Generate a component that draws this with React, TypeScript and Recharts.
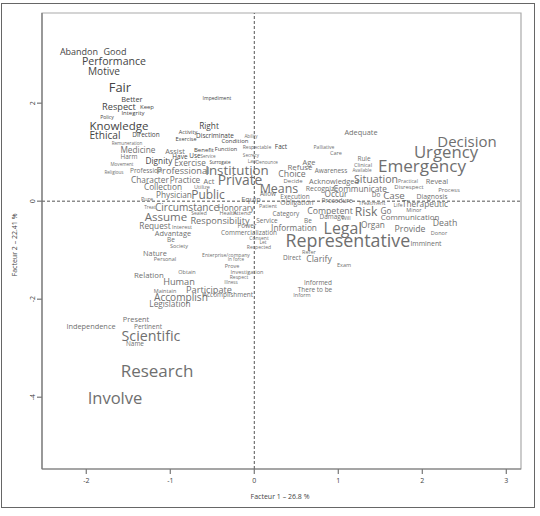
import React from "react";
import {
  ScatterChart,
  Scatter,
  XAxis,
  YAxis,
  ReferenceLine,
  ReferenceArea,
} from "recharts";

// words of the correspondence analysis map (factor 1 / factor 2 coordinates)
const labels = [
  "Abandon", "Good", "Performance", "Motive", "Fair", "Better", "Respect", "Keep", "Integrity", "Policy",
  "Impediment", "Knowledge", "Right", "Ethical", "Direction", "Remuneration", "Activity", "Discriminate", "Exercise", "Condition",
  "Ability", "Medicine", "Assist", "Benefit", "Function", "Respectable", "Fact", "Harm", "Have", "Use",
  "Service", "Secrecy", "Dignity", "Movement", "Exercise", "Surrogate", "Law", "Denounce", "Religious", "Profession",
  "Professional", "Institution", "Character", "Practice", "Act", "Private", "Collection", "Utilize", "Physician", "Public",
  "Means", "Allow", "Equip", "Pure", "Treat", "Circumstance", "Honorary", "Patient", "Assume", "Sealed",
  "Health", "Attend", "Responsibility", "Service", "Request", "Interest", "Power", "Commercialization", "Advantage", "Be",
  "Society", "Consent", "Let", "Respected", "Nature", "Personal", "Enterprise/company", "In force", "Prove", "Investigation",
  "Obtain", "Relation", "Respect", "Illness", "Human", "Participate", "Maintain", "Accomplish", "Accomplishment", "Legislation",
  "Present", "Independence", "Pertinent", "Scientific", "Name", "Research", "Involve", "Palliative", "Care", "Age",
  "Refuse", "Awareness", "Choice", "Decide", "Acknowledged", "Recognize", "Occur", "Execution", "Obligation", "Procedure",
  "Adequate", "Decision", "Urgency", "Emergency", "Rule", "Clinical", "Available", "Situation", "Practical", "Reveal",
  "Communicate", "Disrespect", "Process", "Do", "Case", "Diagnosis", "Treatment", "Life", "Therapeutic", "Competent",
  "Risk", "Go", "Minor", "Damage", "Will", "Communication", "Death", "Category", "Be", "Information",
  "Legal", "Organ", "Provide", "Donor", "Representative", "Imminent", "Refer", "Direct", "Clarify", "Exam",
  "Informed", "There to be", "Inform",
];

const f1 = [
  -2.087, -1.658, -1.67, -1.789, -1.599, -1.456, -1.611, -1.277, -1.444, -1.754,
  -0.444, -1.611, -0.539, -1.777, -1.289, -1.515, -0.789, -0.468, -0.813, -0.23,
  -0.039, -1.385, -0.944, -0.599, -0.337, 0.032, 0.318, -1.492, -0.885, -0.706,
  -0.551, -0.039, -1.135, -1.575, -0.765, -0.408, -0.027, 0.151, -1.67, -1.289,
  -0.849, -0.206, -1.242, -0.825, -0.539, -0.17, -1.087, -0.623, -0.956, -0.551,
  0.294, 0.163, -0.039, -1.277, -1.242, -0.801, -0.218, 0.163, -1.051, -0.658,
  -0.313, -0.146, -0.408, 0.151, -1.182, -0.861, -0.087, -0.063, -0.968, -0.992,
  -0.896, 0.056, 0.104, 0.056, -1.182, -1.063, -0.337, -0.218, -0.265, -0.087,
  -0.801, -1.254, -0.182, -0.277, -0.896, -0.539, -1.063, -0.873, -0.313, -1.004,
  -1.408, -1.944, -1.265, -1.23, -1.42, -1.158, -1.658, 0.83, 0.973, 0.651,
  0.544, 0.913, 0.449, 0.461, 0.949, 0.806, 0.973, 0.485, 0.508, 0.985,
  1.27, 2.532, 2.282, 1.996, 1.306, 1.294, 1.282, 1.449, 1.83, 2.175,
  1.258, 1.842, 2.318, 1.449, 1.663, 2.115, 1.401, 1.711, 2.032, 0.901,
  1.33, 1.568, 1.901, 0.925, 1.092, 1.854, 2.27, 0.377, 0.639, 0.473,
  1.056, 1.413, 1.854, 2.199, 1.115, 2.044, 0.651, 0.449, 0.77, 1.068,
  0.758, 0.723, 0.568,
];

const f2 = [
  3.045, 3.045, 2.861, 2.657, 2.331, 2.086, 1.922, 1.922, 1.8, 1.718,
  2.106, 1.535, 1.535, 1.351, 1.351, 1.188, 1.412, 1.331, 1.269, 1.229,
  1.331, 1.045, 1.024, 1.045, 1.065, 1.106, 1.106, 0.902, 0.902, 0.922,
  0.922, 0.943, 0.82, 0.759, 0.78, 0.8, 0.82, 0.8, 0.596, 0.616,
  0.616, 0.637, 0.433, 0.433, 0.412, 0.433, 0.29, 0.29, 0.127, 0.127,
  0.249, 0.147, 0.045, 0.045, -0.118, -0.118, -0.139, -0.098, -0.322, -0.241,
  -0.241, -0.241, -0.384, -0.404, -0.506, -0.527, -0.506, -0.629, -0.649, -0.792,
  -0.914, -0.751, -0.833, -0.935, -1.057, -1.18, -1.098, -1.18, -1.322, -1.445,
  -1.445, -1.506, -1.547, -1.649, -1.649, -1.792, -1.833, -1.955, -1.914, -2.098,
  -2.404, -2.547, -2.547, -2.731, -2.914, -3.465, -3.996, 1.106, 0.984, 0.8,
  0.698, 0.616, 0.555, 0.412, 0.412, 0.269, 0.147, 0.086, -0.037, 0.004,
  1.412, 1.229, 1.004, 0.718, 0.861, 0.739, 0.637, 0.453, 0.412, 0.412,
  0.269, 0.29, 0.229, 0.127, 0.106, 0.086, -0.037, -0.078, -0.057, -0.2,
  -0.22, -0.2, -0.18, -0.322, -0.343, -0.322, -0.445, -0.261, -0.404, -0.547,
  -0.547, -0.486, -0.567, -0.649, -0.792, -0.873, -1.037, -1.159, -1.18, -1.302,
  -1.669, -1.792, -1.914,
];

// word weight, shown as type size
const weight = [
  9.8, 9.8, 11.5, 11, 14, 8, 10, 6.5, 6.5, 5.5,
  5.5, 12.5, 9, 11, 7, 5, 6, 7, 6, 6.5,
  5, 9, 8, 6.5, 6, 5.5, 7, 7, 7, 7,
  5, 5, 9, 5, 9, 5, 5, 5, 5, 7,
  10, 14.5, 9, 9, 8, 15, 9, 6, 9, 13,
  13.5, 7, 8, 6, 5, 11, 9, 6, 12.5, 5.5,
  6, 6, 10, 7, 9, 6, 7, 7, 8, 7,
  6, 5.5, 5.5, 5.5, 8, 6, 5.5, 5, 6, 6,
  6, 8.5, 5.5, 5, 10, 10, 6, 11, 7, 9,
  8, 8, 7, 15.5, 7, 18.5, 18, 5.5, 6, 8,
  8.6, 7, 9.5, 6.5, 8, 7.5, 9, 7, 7.5, 7,
  8, 16.3, 18.2, 18.6, 7, 6, 5, 11.6, 5.5, 8,
  9, 6.5, 6.5, 7, 10.6, 7.5, 6, 6, 9, 9.5,
  13.2, 9, 6, 7, 6, 8.6, 9.5, 7, 7, 9,
  17.3, 9, 9.5, 6, 19.4, 7.5, 6, 7, 9.5, 6,
  7, 7, 6,
];

// indices of the words printed in the darker tone (upper-left cluster)
const darkIdx = [0, 1, 2, 3, 4, 5, 6, 7, 8, 9, 10, 11, 12, 13, 14, 16, 17, 18, 19, 23, 24, 26, 28, 29, 32, 35];

const FONT = "'Open Sans', 'Noto Sans', sans-serif";
const FONT_SCALE = 0.92;

const data = labels.map((w, i) => ({
  word: w,
  x: f1[i],
  y: f2[i],
  size: weight[i],
  dark: darkIdx.includes(i),
}));

const WordShape = (props: any) => {
  const { cx, cy, payload } = props;
  if (cx == null || cy == null) return null;
  return (
    <text
      x={cx}
      y={cy}
      textAnchor="middle"
      dominantBaseline="central"
      fontFamily={FONT}
      fontSize={payload.size * FONT_SCALE}
      fill={payload.dark ? "#454545" : "#6f6f6f"}
    >
      {payload.word}
    </text>
  );
};

const YTick = (props: any) => {
  const { x, y, payload } = props;
  return (
    <text
      x={x}
      y={y}
      transform={`rotate(-90 ${x} ${y})`}
      textAnchor="middle"
      fontFamily={FONT}
      fontSize={7}
      fill="#444"
    >
      {payload.value}
    </text>
  );
};

const XTick = (props: any) => {
  const { x, y, payload } = props;
  return (
    <text x={x} y={y + 7} textAnchor="middle" fontFamily={FONT} fontSize={7} fill="#444">
      {payload.value}
    </text>
  );
};

const X_DOMAIN: [number, number] = [-2.527, 3.175];
const Y_DOMAIN: [number, number] = [-5.465, 3.84];

export default function App() {
  return (
    <div style={{ position: "absolute", left: 0, top: 0, width: 540, height: 516, background: "#fff" }}>
      <div
        style={{
          position: "absolute",
          left: 1,
          top: 3,
          width: 532,
          height: 503,
          border: "1.5px solid #666",
        }}
      />
      <div style={{ position: "absolute", left: 0, top: 0 }}>
        <ScatterChart width={540} height={516} margin={{ top: 13, right: 19, bottom: 0, left: 0 }}>
          <ReferenceArea
            x1={X_DOMAIN[0]}
            x2={X_DOMAIN[1]}
            y1={Y_DOMAIN[0]}
            y2={Y_DOMAIN[1]}
            fill="none"
            stroke="#aaa"
            strokeWidth={1.2}
            ifOverflow="visible"
          />
          <XAxis
            type="number"
            dataKey="x"
            domain={X_DOMAIN}
            allowDataOverflow
            ticks={[-2, -1, 0, 1, 2, 3]}
            height={47}
            tickSize={5}
            stroke="#777"
            strokeWidth={1.2}
            tick={<XTick />}
            label={() => (
              <text x={280} y={499} textAnchor="middle" fontFamily={FONT} fontSize={7} fill="#444">
                Facteur 1 – 26.8 %
              </text>
            )}
          />
          <YAxis
            type="number"
            dataKey="y"
            domain={Y_DOMAIN}
            allowDataOverflow
            ticks={[-4, -2, 0, 2]}
            width={42}
            tickSize={5}
            stroke="#777"
            strokeWidth={1.2}
            tick={<YTick />}
            label={() => (
              <text
                x={17}
                y={245}
                transform="rotate(-90 17 245)"
                textAnchor="middle"
                fontFamily={FONT}
                fontSize={7}
                fill="#444"
              >
                Facteur 2 – 22.41 %
              </text>
            )}
          />
          <ReferenceLine x={0} stroke="#555" strokeDasharray="3 2" />
          <ReferenceLine y={0} stroke="#555" strokeDasharray="3 2" />
          <Scatter data={data} shape={<WordShape />} isAnimationActive={false} />
        </ScatterChart>
      </div>
    </div>
  );
}
